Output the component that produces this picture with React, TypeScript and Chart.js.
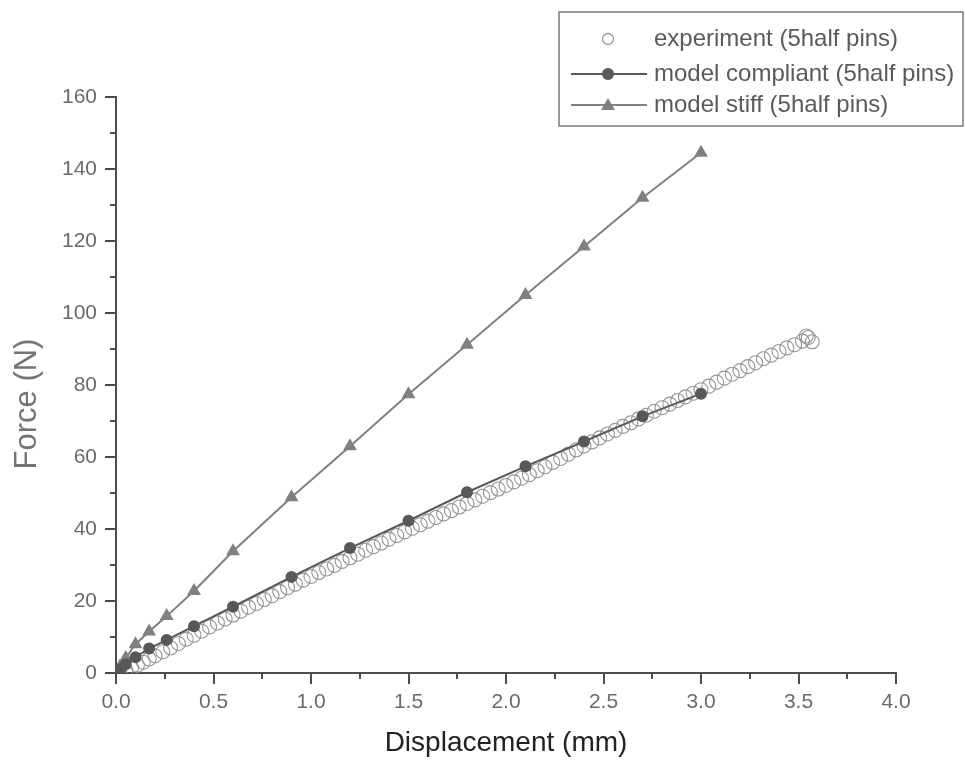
import React, { useEffect, useRef } from "react";
import { Chart, registerables } from "chart.js";

Chart.register(...registerables);

// ---- Data ----
const expX = [
  0.02, 0.05, 0.08, 0.11, 0.14, 0.17, 0.2, 0.24, 0.28, 0.32, 0.36, 0.4, 0.44, 0.48, 0.52, 0.56, 0.6, 0.64,
  0.68, 0.72, 0.76, 0.8, 0.84, 0.88, 0.92, 0.96, 1.0, 1.04, 1.08, 1.12, 1.16, 1.2, 1.24, 1.28, 1.32, 1.36,
  1.4, 1.44, 1.48, 1.52, 1.56, 1.6, 1.64, 1.68, 1.72, 1.76, 1.8, 1.84, 1.88, 1.92, 1.96, 2.0, 2.04, 2.08,
  2.12, 2.16, 2.2, 2.24, 2.28, 2.32, 2.36, 2.4, 2.44, 2.48, 2.52, 2.56, 2.6, 2.64, 2.68, 2.72, 2.76, 2.8,
  2.84, 2.88, 2.92, 2.96, 3.0, 3.04, 3.08, 3.12, 3.16, 3.2, 3.24, 3.28, 3.32, 3.36, 3.4, 3.44, 3.48, 3.52,
  3.55, 3.57, 3.54,
];
const expY = [
  0.3, 0.8, 1.5, 2.2, 3.0, 3.9, 4.8, 5.9, 7.0, 8.2, 9.4, 10.5, 11.6, 12.8, 13.9, 15.0, 16.1, 17.2,
  18.3, 19.3, 20.4, 21.5, 22.6, 23.7, 24.7, 25.8, 26.8, 27.9, 28.9, 29.9, 31.0, 32.0, 33.0, 34.1, 35.1, 36.1,
  37.2, 38.2, 39.2, 40.2, 41.2, 42.2, 43.2, 44.2, 45.1, 46.1, 47.1, 48.1, 49.1, 50.1, 51.1, 52.1, 53.1, 54.1,
  55.1, 56.2, 57.3, 58.5, 59.6, 60.8, 62.0, 63.1, 64.2, 65.3, 66.4, 67.4, 68.5, 69.5, 70.6, 71.6, 72.7, 73.7,
  74.7, 75.7, 76.7, 77.7, 78.7, 79.7, 80.8, 81.9, 83.0, 84.0, 85.1, 86.2, 87.3, 88.3, 89.3, 90.3, 91.2, 92.2,
  93.2, 92.0, 93.6,
];
const modelX = [0, 0.02, 0.05, 0.1, 0.17, 0.26, 0.4, 0.6, 0.9, 1.2, 1.5, 1.8, 2.1, 2.4, 2.7, 3.0];
const compliantY = [0, 1, 2.4, 4.4, 6.8, 9.2, 13, 18.4, 26.7, 34.7, 42.3, 50.2, 57.4, 64.3, 71.3, 77.6];
const stiffY = [0, 1.8, 4.2, 8, 11.5, 15.8, 22.8, 33.8, 48.8, 63, 77.4, 91.2, 105, 118.5, 132, 144.5];

const legendLabels = ["experiment (5half pins)", "model compliant (5half pins)", "model stiff (5half pins)"];
const xTitle = "Displacement (mm)";
const yTitle = "Force (N)";

const FONT = "'Liberation Sans', Arial, sans-serif";
const AXIS = "#4d4d4d";
const LABEL = "#6a6a6a";
const EXP_C = "#949494";
const COMP_C = "#585858";
const STIFF_C = "#808080";

const minorTicks = {
  id: "minorTicks",
  afterDraw(chart: any) {
    const { ctx, scales } = chart;
    const xs = scales.x;
    const ys = scales.y;
    ctx.save();
    ctx.strokeStyle = AXIS;
    ctx.lineWidth = 2;
    for (let v = 10; v < 160; v += 20) {
      const py = Math.round(ys.getPixelForValue(v));
      ctx.beginPath();
      ctx.moveTo(xs.left, py);
      ctx.lineTo(xs.left - 6, py);
      ctx.stroke();
    }
    for (let v = 0.25; v < 4; v += 0.5) {
      const px = Math.round(xs.getPixelForValue(v));
      ctx.beginPath();
      ctx.moveTo(px, ys.bottom);
      ctx.lineTo(px, ys.bottom + 6);
      ctx.stroke();
    }
    // y axis title
    ctx.save();
    ctx.translate(27, 404);
    ctx.rotate(-Math.PI / 2);
    ctx.font = `31px ${FONT}`;
    ctx.fillStyle = "#747474";
    ctx.textAlign = "center";
    ctx.textBaseline = "middle";
    ctx.fillText(yTitle, 0, 0);
    ctx.restore();
    ctx.restore();
  },
};

const legendBox = {
  id: "legendBox",
  afterDraw(chart: any) {
    const { ctx } = chart;
    ctx.save();
    ctx.strokeStyle = "#7a7a7a";
    ctx.lineWidth = 1.5;
    ctx.strokeRect(559, 12, 404, 114);
    ctx.font = `24px ${FONT}`;
    ctx.textBaseline = "middle";
    const rows = [39, 74, 105];
    const mx = 608;
    // row 1: open circle
    ctx.beginPath();
    ctx.strokeStyle = EXP_C;
    ctx.lineWidth = 1.3;
    ctx.arc(mx, rows[0], 5.5, 0, Math.PI * 2);
    ctx.stroke();
    // row 2: line + filled circle
    ctx.beginPath();
    ctx.strokeStyle = COMP_C;
    ctx.lineWidth = 2;
    ctx.moveTo(571, rows[1]);
    ctx.lineTo(647, rows[1]);
    ctx.stroke();
    ctx.beginPath();
    ctx.fillStyle = COMP_C;
    ctx.arc(mx, rows[1], 6, 0, Math.PI * 2);
    ctx.fill();
    // row 3: line + triangle
    ctx.beginPath();
    ctx.strokeStyle = STIFF_C;
    ctx.lineWidth = 2;
    ctx.moveTo(571, rows[2]);
    ctx.lineTo(647, rows[2]);
    ctx.stroke();
    ctx.beginPath();
    ctx.fillStyle = STIFF_C;
    ctx.moveTo(mx, rows[2] - 7);
    ctx.lineTo(mx + 7, rows[2] + 5);
    ctx.lineTo(mx - 7, rows[2] + 5);
    ctx.closePath();
    ctx.fill();
    ctx.fillStyle = "#5a5a5a";
    legendLabels.forEach((t, i) => ctx.fillText(t, 654, rows[i]));
    ctx.restore();
  },
};

export default function App() {
  const ref = useRef<HTMLCanvasElement>(null);
  useEffect(() => {
    if (!ref.current) return;
    const chart = new Chart(ref.current, {
      type: "scatter",
      data: {
        datasets: [
          {
            label: legendLabels[0],
            data: expX.map((x, i) => ({ x, y: expY[i] })),
            showLine: false,
            pointStyle: "circle",
            pointRadius: 7,
            pointBorderWidth: 1.1,
            pointBorderColor: EXP_C,
            pointBackgroundColor: "rgba(0,0,0,0)",
            order: 3,
          },
          {
            label: legendLabels[1],
            data: modelX.map((x, i) => ({ x, y: compliantY[i] })),
            showLine: true,
            borderColor: COMP_C,
            borderWidth: 2,
            pointStyle: "circle",
            pointRadius: 6,
            pointBorderWidth: 0,
            pointBackgroundColor: COMP_C,
            order: 1,
          },
          {
            label: legendLabels[2],
            data: modelX.map((x, i) => ({ x, y: stiffY[i] })),
            showLine: true,
            borderColor: STIFF_C,
            borderWidth: 2,
            pointStyle: "triangle",
            pointRadius: 8,
            pointBorderWidth: 0,
            pointBackgroundColor: STIFF_C,
            order: 2,
          },
        ],
      },
      options: {
        animation: false,
        responsive: true,
        maintainAspectRatio: false,
        layout: { padding: { left: 0, top: 97, right: 69, bottom: 0 } },
        plugins: { legend: { display: false }, tooltip: { enabled: false } },
        scales: {
          x: {
            type: "linear",
            min: 0,
            max: 4,
            afterFit: (s: any) => {
              s.height = 763 - 673;
            },
            border: { display: true, color: AXIS, width: 2 },
            grid: { display: true, drawOnChartArea: false, drawTicks: true, tickLength: 11, color: AXIS, lineWidth: 2 },
            ticks: {
              stepSize: 0.5,
              padding: 6,
              color: LABEL,
              font: { family: FONT, size: 21 },
              callback: (v: any) => Number(v).toFixed(1),
            },
            title: {
              display: true,
              text: xTitle,
              color: "#222",
              font: { family: FONT, size: 28 },
              padding: { top: 0, bottom: 3 },
            },
          },
          y: {
            type: "linear",
            min: 0,
            max: 160,
            afterFit: (s: any) => {
              s.width = 116;
            },
            border: { display: true, color: AXIS, width: 2 },
            grid: { display: true, drawOnChartArea: false, drawTicks: true, tickLength: 11, color: AXIS, lineWidth: 2 },
            ticks: {
              stepSize: 20,
              padding: 8,
              color: LABEL,
              font: { family: FONT, size: 21 },
            },
            title: { display: false },
          },
        },
      },
      plugins: [minorTicks, legendBox],
    } as any);
    return () => chart.destroy();
  }, []);
  return (
    <div style={{ position: "fixed", left: 0, top: 0, width: 965, height: 763, background: "#fff" }}>
      <canvas ref={ref} />
    </div>
  );
}
